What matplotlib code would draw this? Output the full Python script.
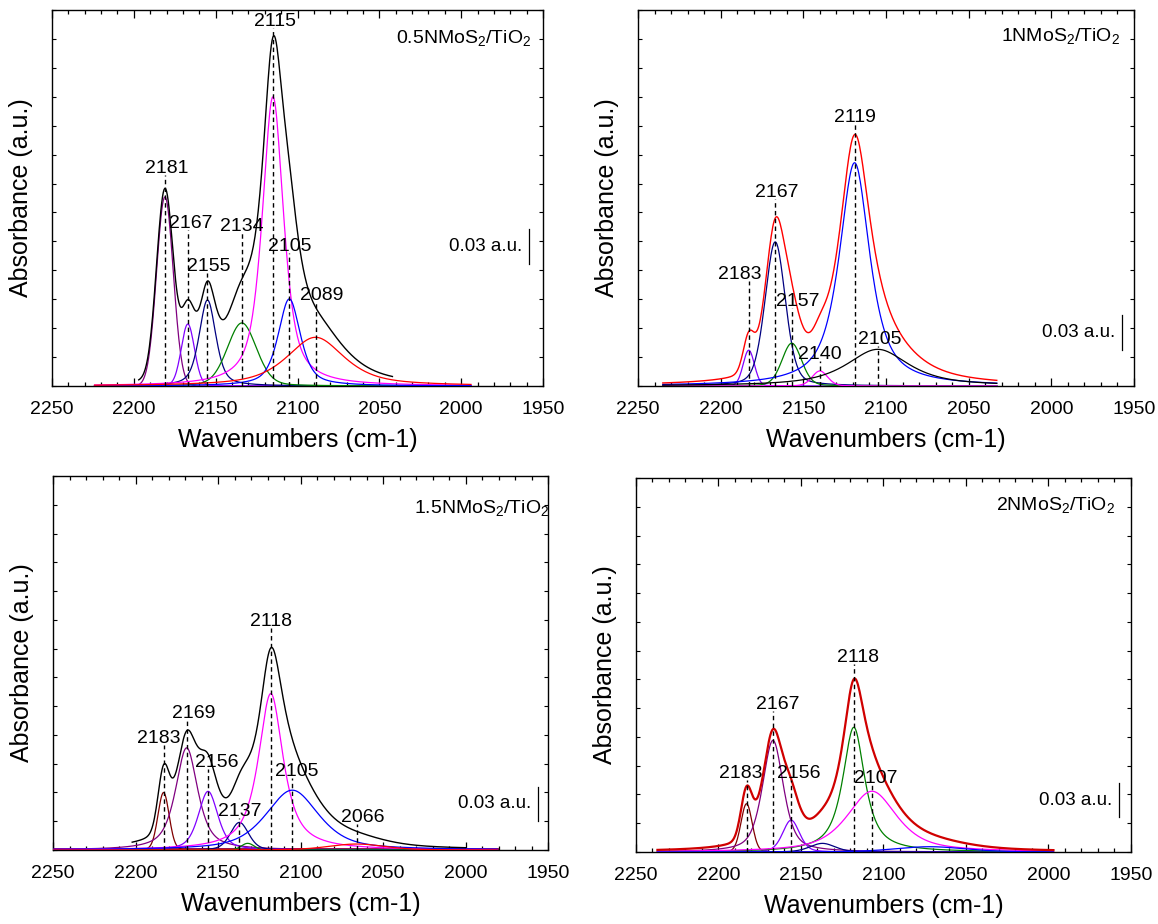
import numpy as np
import matplotlib
matplotlib.use("Agg")
import matplotlib.pyplot as plt
from matplotlib.ticker import MultipleLocator, NullFormatter

plt.rcParams["font.family"] = ["Liberation Sans", "DejaVu Sans"]
plt.rcParams["mathtext.default"] = "regular"

# ---------------- data: fitted CO bands (centre cm-1, height a.u., FWHM cm-1, Lorentz fraction)
s1_name = "0.5NMoS$_2$/TiO$_2$"
s1_centers = [2181, 2167, 2155, 2134, 2115, 2105, 2089]
s1_heights = [0.1635, 0.0536, 0.0744, 0.0545, 0.250, 0.0753, 0.0421]
s1_fwhm = [12, 9.5, 12, 21, 15.5, 16, 42]
s1_eta = [0.0, 0.1, 0.5, 0.2, 0.7, 0.6, 0.7]
s1_range = (2224, 1994)
s1_total_range = (2197, 2042)

s2_name = "1NMoS$_2$/TiO$_2$"
s2_centers = [2183, 2167, 2157, 2140, 2119, 2105]
s2_heights = [0.031, 0.1246, 0.037, 0.013, 0.193, 0.0317]
s2_fwhm = [8, 14.5, 14, 11, 22, 45]
s2_eta = [0.1, 0.3, 0.2, 0.2, 0.8, 0.8]
s2_range = (2235, 2033)
s2_total_range = (2235, 2033)

s3_name = "1.5NMoS$_2$/TiO$_2$"
s3_centers = [2183, 2169, 2156, 2137, 2132, 2118, 2105, 2066]
s3_heights = [0.050, 0.0888, 0.051, 0.024, 0.0058, 0.136, 0.052, 0.0052]
s3_fwhm = [8, 16, 14, 13, 9, 18, 38, 40]
s3_eta = [0.1, 0.7, 0.5, 0.3, 0.0, 0.85, 0.6, 0.3]
s3_labels = [2183, 2169, 2156, 2137, 2118, 2105, 2066]
s3_range = (2250, 1981)
s3_total_range = (2202, 2000)

s4_name = "2NMoS$_2$/TiO$_2$"
s4_centers = [2183, 2167, 2156, 2137, 2118, 2107, 2072]
s4_heights = [0.042, 0.097, 0.0277, 0.0075, 0.1084, 0.0528, 0.0046]
s4_fwhm = [8, 15, 12, 18, 16, 36, 50]
s4_eta = [0.1, 0.55, 0.3, 0.3, 0.85, 0.7, 0.3]
s4_labels = [2183, 2167, 2156, 2118, 2107]
s4_range = (2237, 1997)
s4_total_range = (2237, 1997)

scale_bar = 0.03  # a.u.

# ---------------- styling / layout
W, H = 1158, 924
fig = plt.figure(figsize=(W / 100, H / 100), dpi=100)


def axes_px(left, top, right, bottom):
    return fig.add_axes([left / W, 1 - bottom / H, (right - left) / W, (bottom - top) / H])


def pvoigt(x, c, h, w, eta):
    g = np.exp(-4 * np.log(2) * ((x - c) / w) ** 2)
    lor = 1.0 / (1.0 + ((x - c) / (w / 2)) ** 2)
    return h * (eta * lor + (1 - eta) * g)


panels = [
    dict(box=(52, 10, 543, 386), name=s1_name, centers=s1_centers, heights=s1_heights,
         fwhm=s1_fwhm, eta=s1_eta, labels=s1_centers, rng=s1_range, trng=s1_total_range,
         colors=["#800080", "#8000ff", "#000080", "#008000", "#ff00ff", "#0000ff", "#ff0000"],
         total_color="black", total_lw=1.0,
         tops=[0.1825, 0.135, 0.0975, 0.132, 0.3097, 0.1148, 0.073],
         dx=[1.0, 2.0, 1.0, 0.0, 1.0, 0.0, 3.5],
         title=(0.977, 0.913), bar=(0.971, 0.1055), baseline=None),
    dict(box=(638, 10, 1134, 386), name=s2_name, centers=s2_centers, heights=s2_heights,
         fwhm=s2_fwhm, eta=s2_eta, labels=s2_centers, rng=s2_range, trng=s2_total_range,
         colors=["#8000ff", "#000080", "#008000", "#ff00ff", "#0000ff", "#000000"],
         total_color="#ff0000", total_lw=1.0,
         tops=[0.0908, 0.1615, 0.0677, 0.0216, 0.2264, 0.0346],
         dx=[-5.2, 1.2, 3.4, 0.0, 0.0, 1.5],
         title=(0.973, 0.918), bar=(0.975, 0.031), baseline=None),
    dict(box=(53, 476, 548, 850), name=s3_name, centers=s3_centers, heights=s3_heights,
         fwhm=s3_fwhm, eta=s3_eta, labels=s3_labels, rng=s3_range, trng=s3_total_range,
         colors=["#800000", "#800080", "#8000ff", "#000080", "#008000", "#ff00ff", "#0000ff", "#ff0000"],
         total_color="black", total_lw=1.0,
         tops=[0.091, 0.1133, 0.070, 0.0282, 0.193, 0.0628, 0.023],
         dx=[-2.7, 4.4, 5.0, 0.0, 0.0, 3.0, 4.0],
         title=(1.003, 0.901), bar=(0.98, 0.025), baseline="#8b0a4a"),
    dict(box=(636, 478, 1131, 852), name=s4_name, centers=s4_centers, heights=s4_heights,
         fwhm=s4_fwhm, eta=s4_eta, labels=s4_labels, rng=s4_range, trng=s4_total_range,
         colors=["#800000", "#800080", "#8000ff", "#000080", "#008000", "#ff00ff", "#0000ff"],
         total_color="#d00000", total_lw=1.6,
         tops=[0.0629, 0.1228, 0.0629, 0.163, 0.058],
         dx=[-3.6, 3.0, 4.7, 2.6, 2.4],
         title=(0.968, 0.914), bar=(0.975, 0.030), baseline=None),
]

for p in panels:
    ax = axes_px(*p["box"])
    x = np.arange(p["rng"][0], p["rng"][1] - 0.5, -0.5)
    xt = np.arange(p["trng"][0], p["trng"][1] - 0.5, -0.5)

    if p["baseline"]:
        ax.plot(x, np.zeros_like(x), color=p["baseline"], lw=2.8, zorder=2)

    total = np.zeros_like(xt)
    for c, h, w, e, col in zip(p["centers"], p["heights"], p["fwhm"], p["eta"], p["colors"]):
        ax.plot(x, pvoigt(x, c, h, w, e), color=col, lw=0.9, zorder=3)
        total += pvoigt(xt, c, h, w, e)
    ax.plot(xt, total, color=p["total_color"], lw=p["total_lw"], zorder=4)

    # dashed markers and peak labels
    for lab, top, dx in zip(p["labels"], p["tops"], p["dx"]):
        ax.plot([lab, lab], [0, top], color="black", lw=1.0, ls=(0, (3.2, 2.4)), zorder=5)
        ax.text(lab - dx, top + 0.0017, str(lab), ha="center", va="baseline",
                fontsize=14, zorder=6)

    ax.text(p["title"][0], p["title"][1], p["name"], transform=ax.transAxes,
            ha="right", va="baseline", fontsize=14)

    # 0.03 a.u. scale bar
    bx, by = p["bar"]
    ax.plot([bx, bx], [by, by + scale_bar], color="black", lw=0.9,
            transform=ax.get_yaxis_transform(), clip_on=False)
    ax.text(bx - 0.013, by + scale_bar / 2, "0.03 a.u.", transform=ax.get_yaxis_transform(),
            ha="right", va="center", fontsize=13.5)

    ax.set_xlim(2250, 1950)
    ax.set_ylim(0, 0.325)
    ax.xaxis.set_major_locator(MultipleLocator(50))
    ax.xaxis.set_minor_locator(MultipleLocator(10))
    ax.yaxis.set_major_locator(MultipleLocator(0.025))
    ax.yaxis.set_major_formatter(NullFormatter())
    ax.tick_params(axis="x", which="major", direction="in", length=5.5, width=0.9,
                   top=True, labelsize=14, pad=11)
    ax.tick_params(axis="x", which="minor", direction="in", length=3, width=0.9, top=True)
    ax.tick_params(axis="y", which="major", direction="in", length=3, width=0.8,
                   right=True, left=True)
    for sp in ax.spines.values():
        sp.set_linewidth(1.0)
    ax.set_xlabel("Wavenumbers (cm-1)", fontsize=18, labelpad=7)
    ax.set_ylabel("Absorbance (a.u.)", fontsize=18, labelpad=10)

fig.savefig("out.png", dpi=100)
